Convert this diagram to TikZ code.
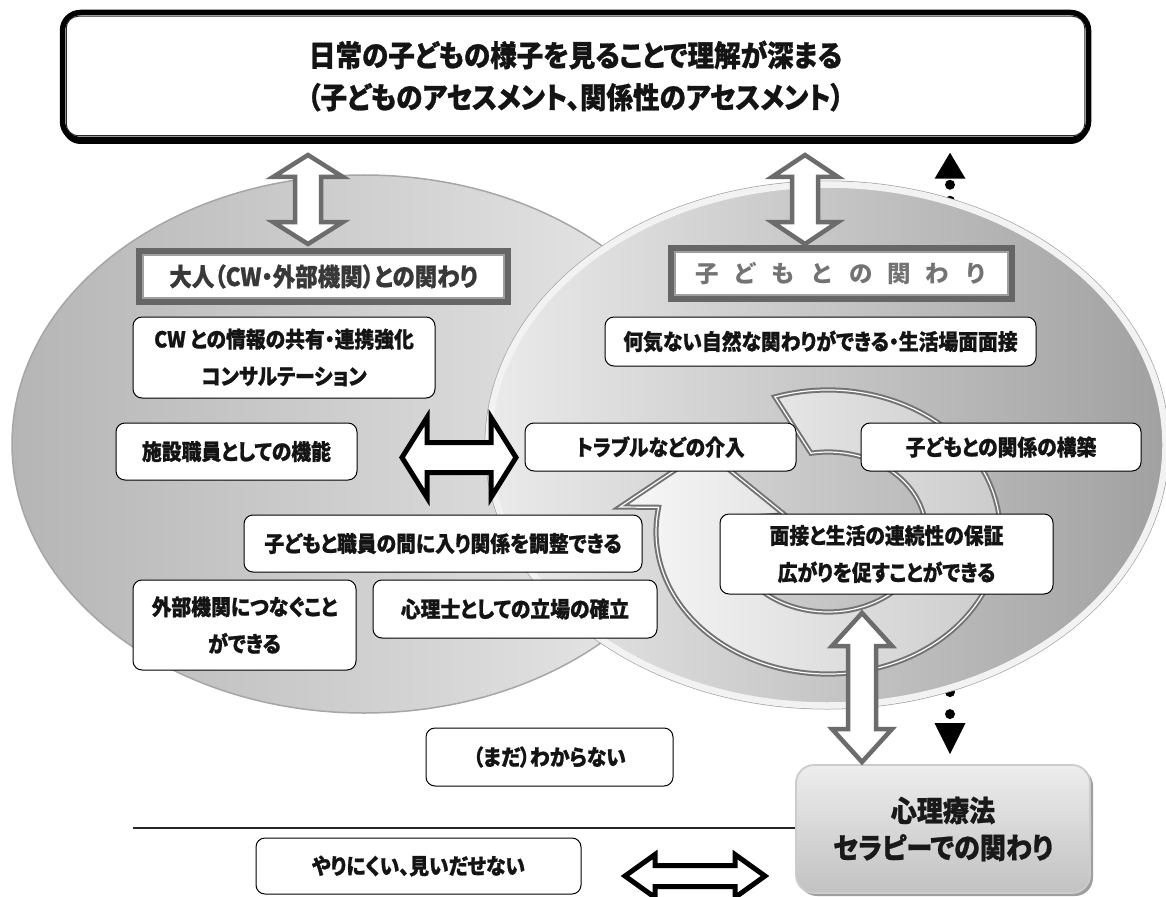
\documentclass[tikz,border=0pt]{standalone}
\usepackage{fontspec}
\newfontfamily\jp{Noto Sans CJK JP}[FakeStretch=0.9,RawFeature=+palt,BoldFeatures={FakeBold=0.9}]
\newfontfamily\jpr{Noto Sans CJK JP}
\usetikzlibrary{calc,shadows,arrows.meta}
\pgfdeclarelayer{back}
\pgfdeclarelayer{ell}
\pgfdeclarelayer{ringl}
\pgfsetlayers{back,ell,ringl,main}
\definecolor{arrgray}{HTML}{6C6C6C}
\definecolor{hdrgray}{HTML}{666666}
\newcommand{\hsjp}{\hspace{15pt}}
\begin{document}
\begin{tikzpicture}[x=1pt,y=-1pt,
  box/.style={draw=black, line width=1pt, rounded corners=9pt, fill=white, inner sep=0pt,
    align=center, font=\jp\bfseries\fontsize{22}{37}\selectfont, text=black!92},
  topbox/.style={draw=black, line width=5.5pt, rounded corners=18pt, fill=white, inner sep=0pt,
    align=center, font=\jp\bfseries\fontsize{29.5}{42}\selectfont, text=black!92,
    drop shadow={shadow xshift=0pt, shadow yshift=-4.5pt, fill=black, opacity=1}},
  hdr/.style={draw=hdrgray, line width=8pt, fill=white, inner sep=0pt,
    font=\jp\bfseries\fontsize{25}{30}\selectfont, text=black!78},
  therapy/.style={draw=gray!40, line width=1.8pt, rounded corners=18pt, top color=gray!14,
    bottom color=gray!48, inner sep=0pt, align=center,
    font=\jp\bfseries\fontsize{29}{37}\selectfont, text=black!90,
    drop shadow={shadow xshift=3pt, shadow yshift=-3pt, fill=gray!75, opacity=1}},
  hollow/.style={draw=arrgray, line width=4.5pt, fill=white, line join=miter},
  blackarrow/.style={draw=black, line width=5pt, fill=white, line join=miter},
  dotline/.style={line width=10pt, line cap=round, black},
  ringstyle/.style={draw=black!55, double=white, double distance=1.2pt, line width=2pt,
    left color=gray!6, right color=gray!42, line join=miter}
]
\useasboundingbox (0,0) rectangle (1166,896);
\begin{pgfonlayer}{back}
\fill[white] (0,0) rectangle (1166,896);
\end{pgfonlayer}

% ---------- nodes ----------
\node[topbox, minimum width=1026pt, minimum height=127pt] (top) at (575.5,76)
  {日常の子どもの様子を見ることで理解が深まる\\（子どものアセスメント、関係性のアセスメント）};
\draw[line width=1pt, rounded corners=12pt, black!85]
  ([shift={(6.5,6.5)}]top.north west) rectangle ([shift={(-6.5,-6.5)}]top.south east);

\node[hdr, minimum width=367pt, minimum height=49pt] (hl) at (323.5,276.5)
  {大人（CW・外部機関）との関わり};
\draw[gray!75, line width=1.3pt]
  ([shift={(7,7)}]hl.north west) rectangle ([shift={(-7,-7)}]hl.south east);

\node[hdr, minimum width=339pt, minimum height=49pt,
  font=\jpr\bfseries\fontsize{23.5}{28}\selectfont, text=black!55] (hr) at (841.5,273.5)
  {子\hsjp ど\hsjp も\hsjp と\hsjp の\hsjp 関\hsjp わ\hsjp り};
\draw[gray!75, line width=1.3pt]
  ([shift={(7,7)}]hr.north west) rectangle ([shift={(-7,-7)}]hr.south east);

\node[box, minimum width=302pt, minimum height=81pt] (cw) at (284,357.5)
  {CW との情報の共有・連携強化\\コンサルテーション};
\node[box, minimum width=241pt, minimum height=57pt] (shisetsu) at (236.5,451.5)
  {施設職員としての機能};
\node[box, minimum width=398pt, minimum height=57pt] (chousei) at (443,543.5)
  {子どもと職員の間に入り関係を調整できる};
\node[box, minimum width=223pt, minimum height=90pt] (gaibu) at (244.5,625)
  {外部機関につなぐこと\\ができる};
\node[box, minimum width=284pt, minimum height=58pt] (shinri) at (515,609)
  {心理士としての立場の確立};
\node[box, minimum width=431pt, minimum height=49pt] (nani) at (820.5,341.5)
  {何気ない自然な関わりができる・生活場面面接};
\node[box, minimum width=271pt, minimum height=48pt] (trouble) at (660.5,447)
  {トラブルなどの介入};
\node[box, minimum width=280pt, minimum height=48pt] (kouchiku) at (1001,447)
  {子どもとの関係の構築};
\node[box, minimum width=333pt, minimum height=80pt] (mensetsu) at (886.5,554)
  {面接と生活の連続性の保証\\広がりを促すことができる};
\node[box, minimum width=247pt, minimum height=58pt] (mada) at (549.5,757)
  {（まだ）わからない};
\node[box, minimum width=325pt, minimum height=56pt] (yari) at (418.5,866)
  {やりにくい、見いだせない};
\node[therapy, minimum width=294pt, minimum height=128pt] (ther) at (943,829)
  {心理療法\\セラピーでの関わり};

% separator line
\coordinate (sep) at (133,828);
\draw[line width=1.2pt, black!85] (sep) -- (sep -| ther.west);

% ---------- dotted connectors (behind right ellipse) ----------
\begin{pgfonlayer}{back}
\coordinate (dtop) at (950,300);
\coordinate (dbot) at (950,620);
\draw[dotline, dash pattern=on 0pt off 16pt, dash phase=10pt,
  {Triangle[width=31pt,length=26pt,line width=0pt]}-, shorten <=10.5pt]
  (top.south -| dtop) -- (dtop);
\draw[dotline, dash pattern=on 0pt off 22pt, dash phase=13pt,
  {Triangle[width=31pt,length=31pt,line width=0pt]}-, shorten <=10pt]
  (ther.north -| dbot) -- (dbot);
\end{pgfonlayer}

% ---------- ellipses ----------
\begin{pgfonlayer}{ell}
\shade[left color=gray!58, right color=gray!16] (364,444) ellipse [x radius=352, y radius=269];
\draw[gray!70, line width=1.5pt] (364,444) ellipse [x radius=352, y radius=269];
\shade[left color=gray!16, right color=gray!74] (827,445) ellipse [x radius=338, y radius=260];
\draw[gray!70, line width=1pt] (827,445) ellipse [x radius=342, y radius=264];
\draw[gray!10, line width=6.5pt] (827,445) ellipse [x radius=338.5, y radius=260.5];
\end{pgfonlayer}

% ---------- circular arrow ----------
\begin{pgfonlayer}{ringl}
\draw[ringstyle]
  ($(828,532)+(-108:172 and 142)$)
  arc[start angle=-108, end angle=190, x radius=172, y radius=142]
  -- (620,507) -- (705,450) -- (785,515)
  -- ($(828,532)+(190:98 and 80)$)
  arc[start angle=190, end angle=-100, x radius=98, y radius=80]
  -- cycle;
\end{pgfonlayer}

% ---------- hollow block arrows ----------
\draw[hollow] (308,155) -- (343,177) -- (321,177) -- (321,222) -- (343,222) -- (308,244)
  -- (273,222) -- (295,222) -- (295,177) -- (273,177) -- cycle;
\draw[hollow] (805,155) -- (838,177) -- (818,177) -- (818,222) -- (838,222) -- (805,244)
  -- (772,222) -- (792,222) -- (792,177) -- (772,177) -- cycle;
\draw[hollow] (862,613) -- (892,646) -- (876,646) -- (876,729) -- (892,729) -- (862,762)
  -- (832,729) -- (848,729) -- (848,646) -- (832,646) -- cycle;

\draw[blackarrow] (402,457.5) -- (427,417.5) -- (427,442.5) -- (491,442.5) -- (491,417.5)
  -- (516,457.5) -- (491,497.5) -- (491,472.5) -- (427,472.5) -- (427,497.5) -- cycle;
\draw[blackarrow] (625,876) -- (655,854.5) -- (655,865.5) -- (735,865.5) -- (735,854.5)
  -- (765,876) -- (735,897.5) -- (735,886.5) -- (655,886.5) -- (655,897.5) -- cycle;
\end{tikzpicture}
\end{document}
